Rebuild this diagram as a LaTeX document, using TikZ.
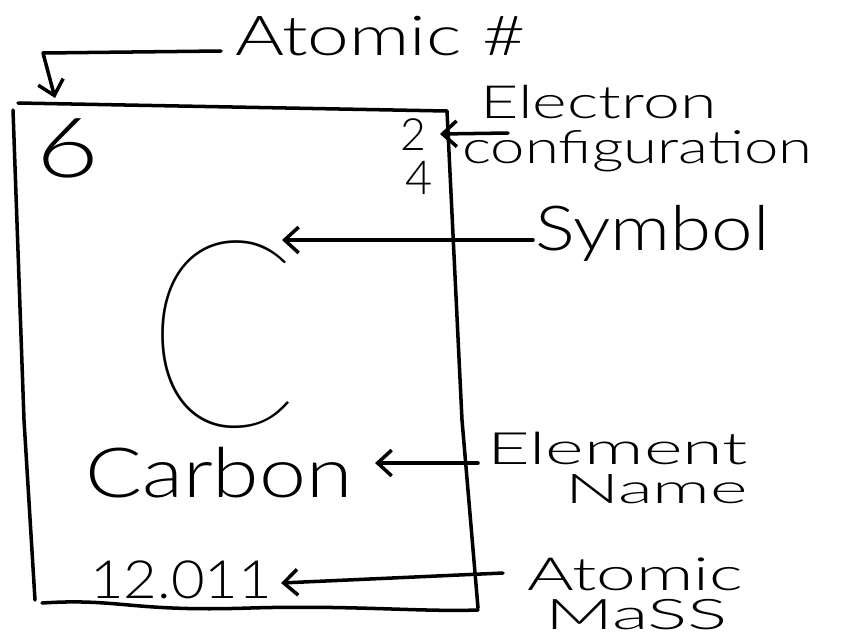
\documentclass[tikz,border=0pt]{standalone}
\usepackage{graphicx}
\usepackage{fontspec}
\setmainfont{Lato Light}
\newfontfamily\thinfont{Lato Thin}
\usetikzlibrary{arrows.meta}
% stretch handwriting-like labels sideways
\newcommand{\wide}[2]{\scalebox{#1}[1]{#2}}

\begin{document}
\begin{tikzpicture}[x=0.03cm,y=-0.03cm,
  ink/.style={line width=3pt,line cap=round,line join=round},
  a/.style={ink,-{Straight Barb[length=12pt,width=22pt,line width=3pt]}},
  lbl/.style={inner sep=0,anchor=base west}]
  \fill[white](0,0) rectangle (853,633);
  % the element card
  \draw[ink](18,103)--(447,111)--(462,420)--(478,608);
  \draw[ink](13,110)--(24,420)--(35,600);
  \draw[ink](42,603) .. controls (120,598) and (130,612) .. (250,608) .. controls (350,605) and (420,612) .. (478,610);
  % contents of the card
  \node[lbl,font=\fontsize{71}{71}\selectfont] (num) at (36,177) {\wide{1.3}{6}};
  \node[lbl,font=\fontsize{38}{38}\selectfont] (ec1) at (400,150) {2};
  \node[lbl,font=\fontsize{40}{40}\selectfont] (ec2) at (405,194) {4};
  \node[lbl,font=\thinfont\fontsize{224}{224}\selectfont] (sym) at (146,426) {\wide{0.85}{C}};
  \node[lbl,font=\fontsize{59}{59}\selectfont] (name) at (85,497) {\wide{1.22}{Carbon}};
  \node[lbl,font=\fontsize{45}{45}\selectfont] (mass) at (90,598) {\wide{1.1}{12.011}};
  % labels round the card
  \node[lbl,font=\fontsize{47}{47}\selectfont] (atlab) at (235,55) {\wide{1.36}{Atomic \#}};
  \node[lbl,font=\fontsize{39}{39}\selectfont] (eclab) at (480,118) {\wide{1.45}{Electron}};
  \node[lbl,font=\fontsize{39}{39}\selectfont] (eclab2) at (462,163) {\wide{1.35}{configuration}};
  \node[lbl,font=\fontsize{53}{53}\selectfont] (symlab) at (535,250) {\wide{1.2}{Symbol}};
  \node[lbl,font=\fontsize{38}{38}\selectfont] (namelab) at (487,464) {\wide{1.66}{Element}};
  \node[lbl,font=\fontsize{35}{35}\selectfont] (namelab2) at (565,503) {\wide{1.75}{Name}};
  \node[lbl,font=\fontsize{39}{39}\selectfont] (masslab) at (527,590) {\wide{1.56}{Atomic}};
  \node[lbl,font=\fontsize{36}{36}\selectfont] (masslab2) at (545,629) {\wide{1.78}{MaSS}};
  % arrow ends
  \coordinate (atS) at (221,51);
  \coordinate (atB) at (43,53);
  \coordinate (atT) at (55,98);
  \coordinate (ecS) at (508,133);
  \coordinate (ecT) at (440,134);
  \coordinate (symS) at (533,240);
  \coordinate (symT) at (282,240);
  \coordinate (nameS) at (478,463);
  \coordinate (nameT) at (375,463);
  \coordinate (massS) at (503,573);
  \coordinate (massT) at (281,583);
  \draw[a](atS)--(atB)--(atT);
  \draw[a](ecS)--(ecT);
  \draw[a](symS)--(symT);
  \draw[a](nameS)--(nameT);
  \draw[a](massS)--(massT);
\end{tikzpicture}
\end{document}
